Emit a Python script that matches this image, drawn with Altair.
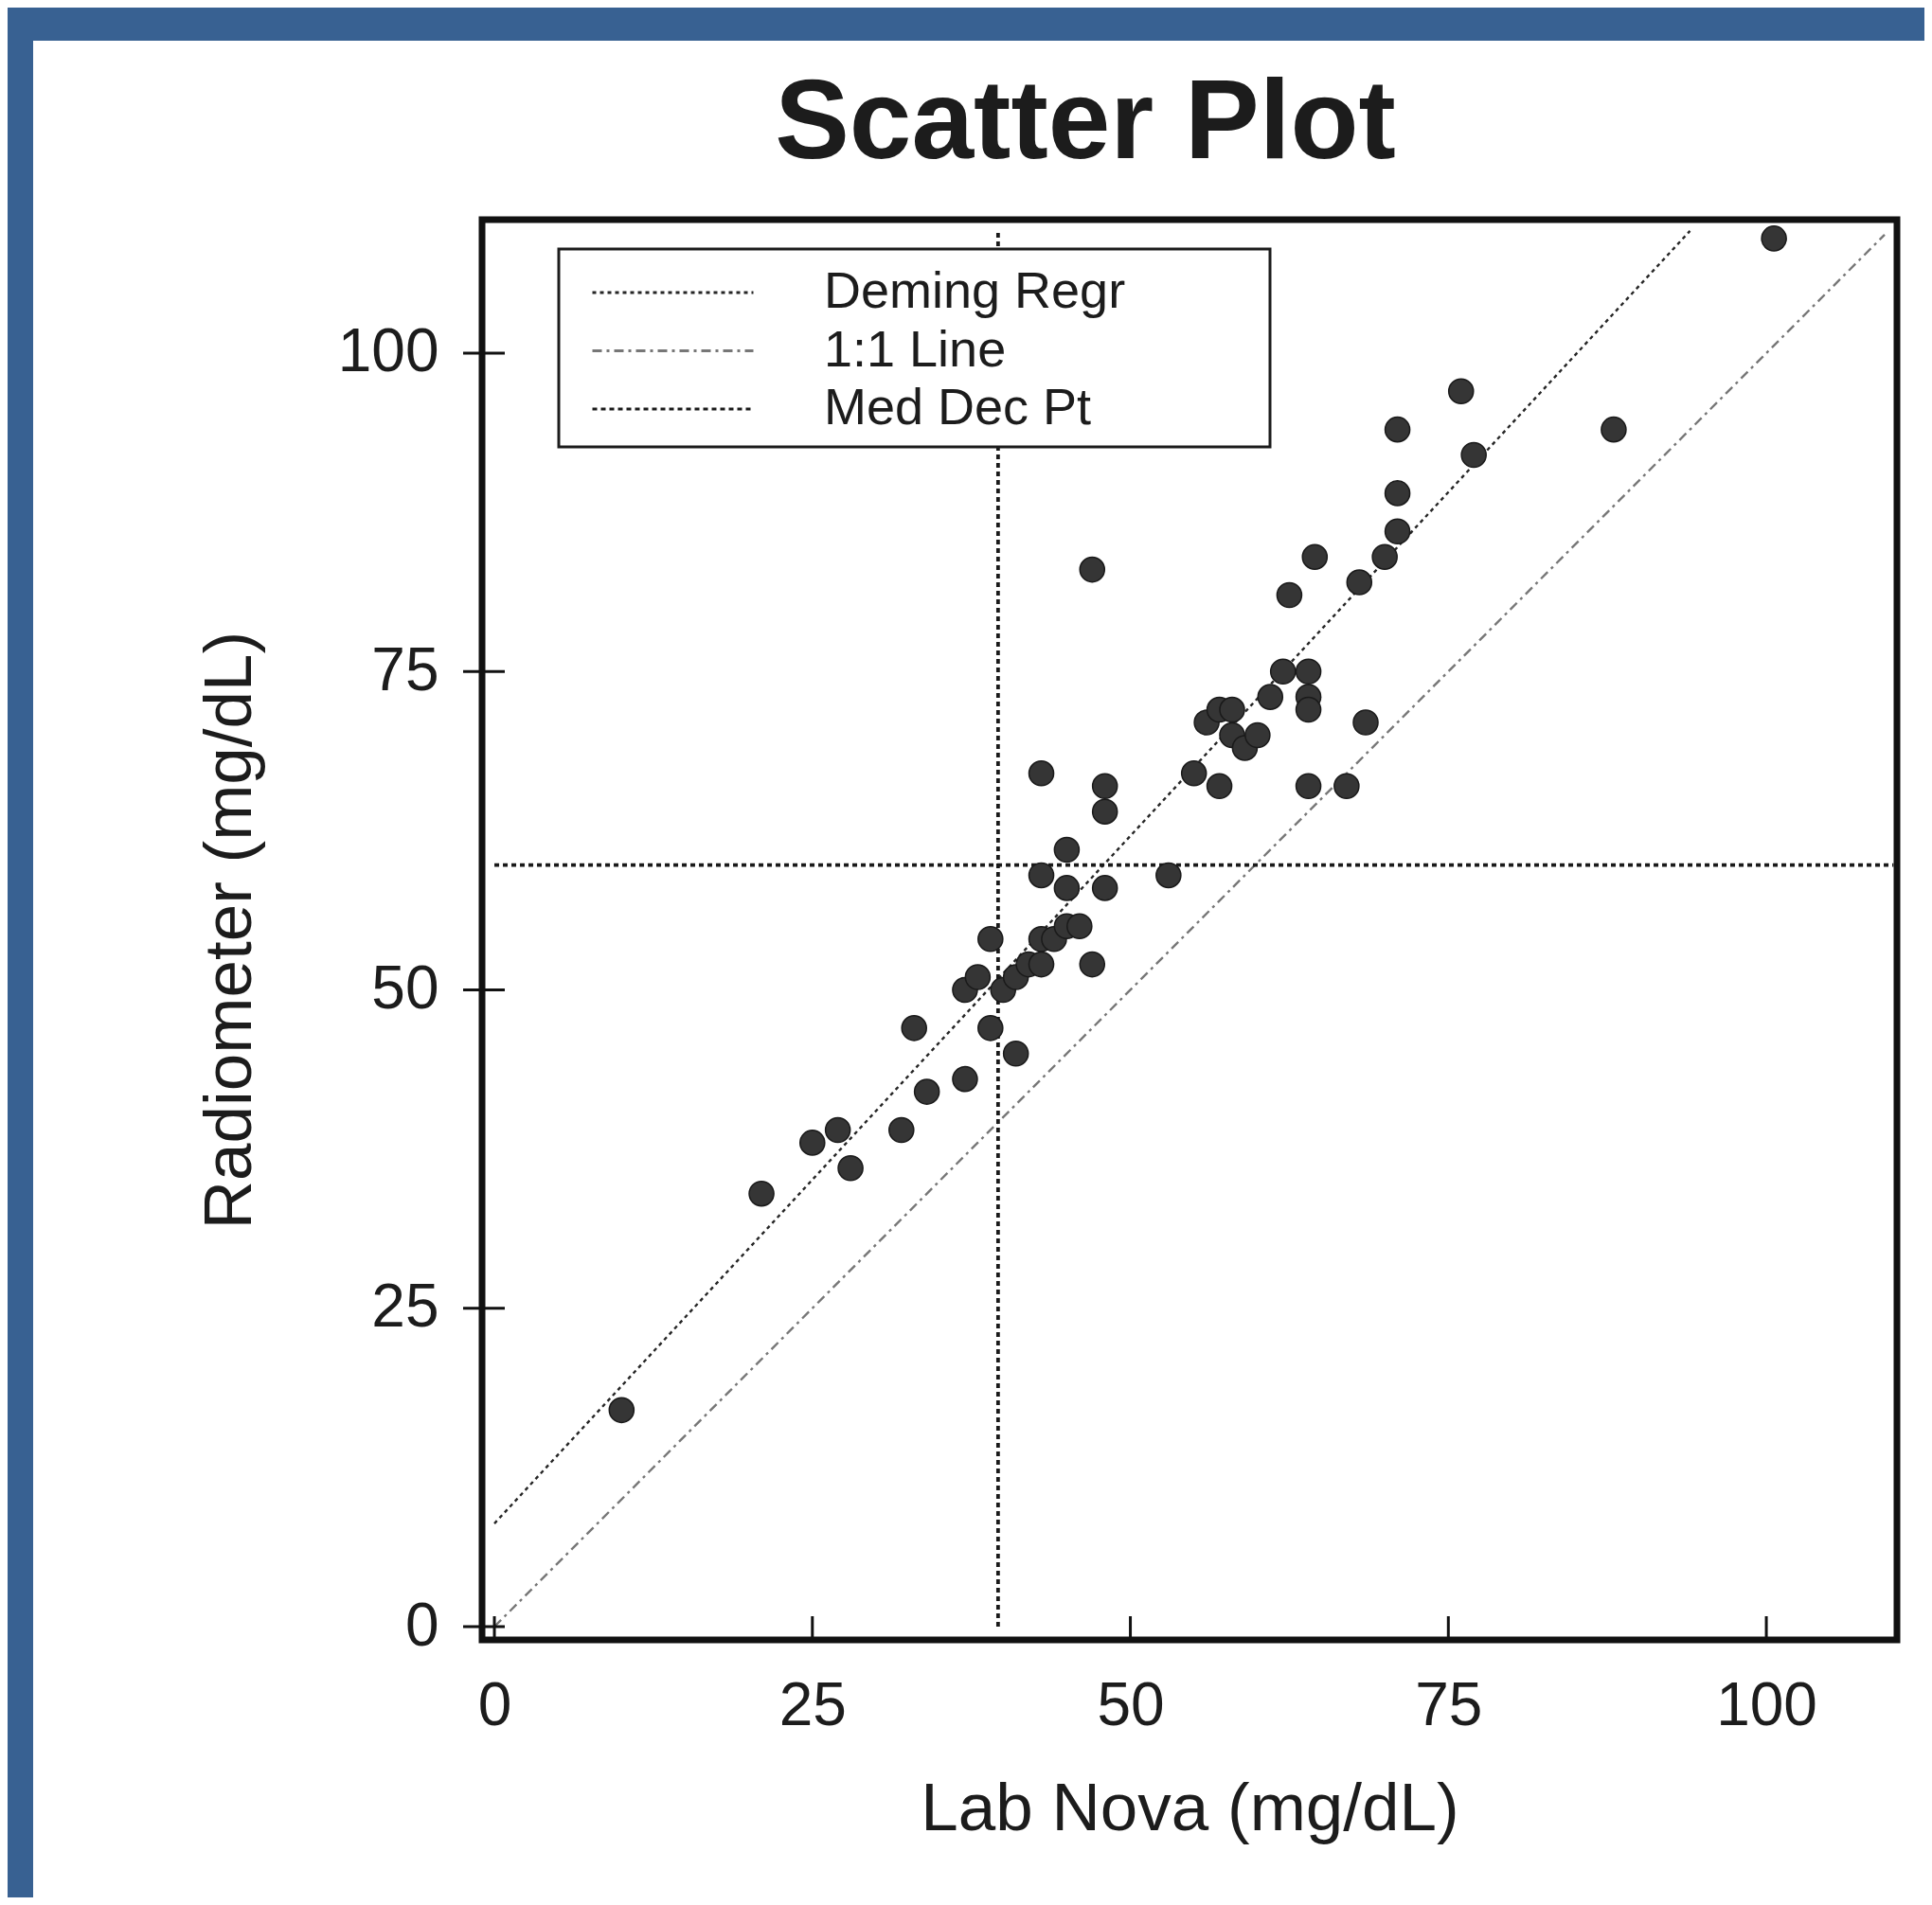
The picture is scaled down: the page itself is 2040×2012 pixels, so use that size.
import altair as alt
import pandas as pd

# ---------------- data ----------------
lab_nova = [10, 21, 25, 27, 28, 32, 33, 34, 37, 37, 38, 39, 39, 40, 41, 41, 42, 43, 43, 44,
            43, 43, 45, 45, 45, 46, 47, 47, 48, 48, 48, 53, 55, 56, 57, 57, 58, 58, 59, 60,
            61, 62, 62.5, 64, 64, 64, 64, 64.5, 67, 68, 68.5, 70, 71, 71, 71, 76, 77, 88, 100.6]
radiometer = [17, 34, 38, 39, 36, 39, 47, 42, 43, 50, 51, 54, 47, 50, 45, 51, 52, 52, 54, 54,
              59, 67, 61, 58, 55, 55, 52, 83, 66, 64, 58, 59, 67, 71, 72, 66, 72, 70, 69, 70,
              73, 75, 81, 75, 73, 72, 66, 84, 66, 82, 71, 84, 86, 89, 94, 97, 92, 94, 109]

series_names = ["Deming Regr", "1:1 Line", "Med Dec Pt"]
seg_series = ["Deming Regr", "1:1 Line", "Med Dec Pt", "Med Dec Pt"]
seg_x1 = [0, 0, 39.6, 0]
seg_y1 = [8.1, 0, 0, 59.8]
seg_x2 = [94, 109.3, 39.6, 110]
seg_y2 = [109.6, 109.3, 109.7, 59.8]

tick_values = [0, 25, 50, 75, 100]

title_text = "Scatter Plot"
x_title = "Lab Nova (mg/dL)"
y_title = "Radiometer (mg/dL)"

# ---------------- tables ----------------
pts = pd.DataFrame({"nova": lab_nova, "radio": radiometer})
segs = pd.DataFrame({"series": seg_series, "x1": seg_x1, "y1": seg_y1,
                     "x2": seg_x2, "y2": seg_y2})
ticks = pd.DataFrame({"v": tick_values})
one = pd.DataFrame({"k": [0]})

# ---------------- styling ----------------
FONT = "Liberation Sans"
INK = "#1c1c1c"
W, H = 1494, 1500
PAD = {"left": 501, "top": 224, "right": 29, "bottom": 272}

xs = alt.Scale(domain=[-0.97, 110.27], nice=False, zero=False)
ys = alt.Scale(domain=[-1.04, 110.48], nice=False, zero=False)

x_axis = alt.Axis(values=tick_values, ticks=False, tickSize=0, domain=False, grid=False,
                  labelFont=FONT, labelFontSize=64, labelColor=INK, labelPadding=38,
                  title=x_title, titleFont=FONT, titleFontSize=71, titleFontWeight="normal",
                  titleColor=INK, titleY=200, titleBaseline="alphabetic", titleLimit=3000,
                  zindex=2)
y_axis = alt.Axis(values=tick_values, ticks=False, tickSize=0, domain=False, grid=False,
                  labelFont=FONT, labelFontSize=64, labelColor=INK, labelPadding=46,
                  title=y_title, titleFont=FONT, titleFontSize=71, titleFontWeight="normal",
                  titleColor=INK, titleX=-245, titleY=H / 2, titleAngle=270,
                  titleAlign="center", titleBaseline="alphabetic", titleLimit=3000,
                  zindex=2)

legend = alt.Legend(orient="none", legendX=115, legendY=50, title=None,
                    labelFont=FONT, labelFontSize=54, labelColor=INK, labelLimit=1000,
                    symbolType="stroke", symbolSize=28900, symbolStrokeWidth=3,
                    clipHeight=54, rowPadding=7.5, labelOffset=73, symbolOffset=0,
                    padding=0, direction="vertical")

# white sheet on the blue page
bg = alt.Chart(one).mark_rect(fill="white", stroke=None).encode(
    x=alt.value(35 - 509), x2=alt.value(W + PAD["right"] + 10),
    y=alt.value(43 - 232), y2=alt.value(H + PAD["bottom"] + 10))

lines = alt.Chart(segs).mark_rule().encode(
    x=alt.X("x1:Q", scale=xs, axis=x_axis),
    y=alt.Y("y1:Q", scale=ys, axis=y_axis),
    x2="x2:Q", y2="y2:Q",
    color=alt.Color("series:N", scale=alt.Scale(domain=series_names,
                                                range=["#262626", "#777777", "#1a1a1a"]),
                    legend=legend),
    strokeDash=alt.StrokeDash("series:N", scale=alt.Scale(domain=series_names,
                                                          range=[[4, 4], [10, 5, 3, 5], [5, 4]]),
                              legend=legend),
    strokeWidth=alt.condition(alt.datum.series == "Med Dec Pt",
                              alt.value(3.8), alt.value(2.4)),
)

legend_box = alt.Chart(one).mark_rect(fill="white", stroke=INK, strokeWidth=3).encode(
    x=alt.value(81), x2=alt.value(832), y=alt.value(31), y2=alt.value(240))

points = alt.Chart(pts).mark_circle(size=680, color="#353535", opacity=1,
                                    stroke="#1a1a1a", strokeWidth=1.5).encode(
    x=alt.X("nova:Q", scale=xs, axis=x_axis),
    y=alt.Y("radio:Q", scale=ys, axis=y_axis))

yticks = alt.Chart(ticks).mark_rule(color="#111111", strokeWidth=3).encode(
    y=alt.Y("v:Q", scale=ys, axis=y_axis), x=alt.value(-20), x2=alt.value(24))

xticks = alt.Chart(ticks).mark_rule(color="#111111", strokeWidth=3).encode(
    x=alt.X("v:Q", scale=xs, axis=x_axis), y=alt.value(H - 25), y2=alt.value(H))

frame = alt.Chart(one).mark_rect(filled=False, stroke="#111111", strokeWidth=7).encode(
    x=alt.value(0), x2=alt.value(W), y=alt.value(0), y2=alt.value(H))

title = alt.Chart(one).mark_text(font=FONT, fontSize=118, fontWeight="bold", color=INK,
                                 align="center", baseline="alphabetic").encode(
    x=alt.value(1146 - 509), y=alt.value(167 - 232), text=alt.value(title_text))

chart = alt.layer(bg, lines, legend_box, points, yticks, xticks, frame, title).properties(
    width=W, height=H,
    autosize=alt.AutoSizeParams(type="none"),
    padding=PAD,
    background="#386192",
).configure_view(strokeWidth=0)

chart.save("out.html", embed_options={"renderer": "svg", "actions": False})
